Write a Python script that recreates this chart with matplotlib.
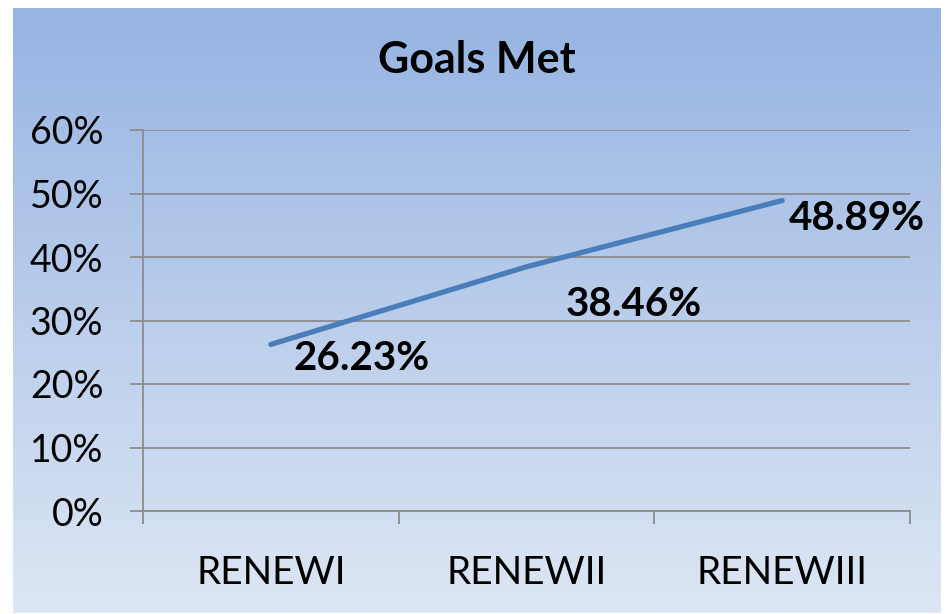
import numpy as np
import matplotlib.pyplot as plt
from matplotlib.colors import LinearSegmentedColormap

# chart data
categories = ["RENEWI", "RENEWII", "RENEWIII"]
goals_met = [0.2623, 0.3846, 0.4889]
point_labels = ["26.23%", "38.46%", "48.89%"]
y_ticks = [0, 0.1, 0.2, 0.3, 0.4, 0.5, 0.6]

# label offsets from each point, in points
label_offsets = [(65, -10), (77, -27), (54, -13)]

plt.rcParams['font.family'] = ['Lato', 'DejaVu Sans']

W, H = 948, 614
fig = plt.figure(figsize=(W / 100, H / 100), dpi=100)
fig.patch.set_facecolor('white')

# gradient background panel
bg = fig.add_axes([13 / W, 1 - 613 / H, (941 - 13) / W, (613 - 8) / H])
cmap = LinearSegmentedColormap.from_list('bg', ['#96b4e2', '#dde6f4'])
grad = np.linspace(0, 1, 256).reshape(-1, 1)
bg.imshow(grad, aspect='auto', cmap=cmap, extent=[0, 1, 0, 1])
bg.set_axis_off()

ax = fig.add_axes([143 / W, 103 / H, (910 - 143) / W, (511 - 130) / H])
ax.patch.set_alpha(0)

x = np.arange(len(categories))
ax.plot(x, goals_met, color='#4a7ebb', lw=3.8, solid_capstyle='round', zorder=3)

for xi, yi, lab, off in zip(x, goals_met, point_labels, label_offsets):
    ax.annotate(lab, (xi, yi), xytext=off, textcoords='offset points',
                ha='center', va='center', fontsize=29, fontweight='bold',
                color='black', zorder=4)

ax.set_xlim(-0.5, len(categories) - 0.5)
ax.set_ylim(0, 0.6)

ax.set_yticks(y_ticks)
ax.set_yticklabels([f"{int(round(t * 100))}%" for t in y_ticks])
ax.grid(axis='y', color='#8c8c8c', lw=1.3)
ax.set_axisbelow(True)

ax.set_xticks(np.arange(len(categories) + 1) - 0.5)
ax.set_xticklabels([])
ax.set_xticks(x, minor=True)
ax.set_xticklabels(categories, minor=True)

for s in ['top', 'right']:
    ax.spines[s].set_visible(False)
for s in ['left', 'bottom']:
    ax.spines[s].set_color('#8c8c8c')
    ax.spines[s].set_linewidth(1.3)

ax.tick_params(axis='y', length=9.5, width=1.3, color='#8c8c8c', pad=19,
               labelsize=27)
ax.tick_params(axis='x', which='major', length=9, width=1.3, color='#8c8c8c')
ax.tick_params(axis='x', which='minor', length=0, pad=32, labelsize=28)

fig.text(477 / W, 1 - 60 / H, "Goals Met", ha='center', va='center',
         fontsize=31, fontweight='bold')

fig.savefig('out.png', dpi=100, facecolor='white')
